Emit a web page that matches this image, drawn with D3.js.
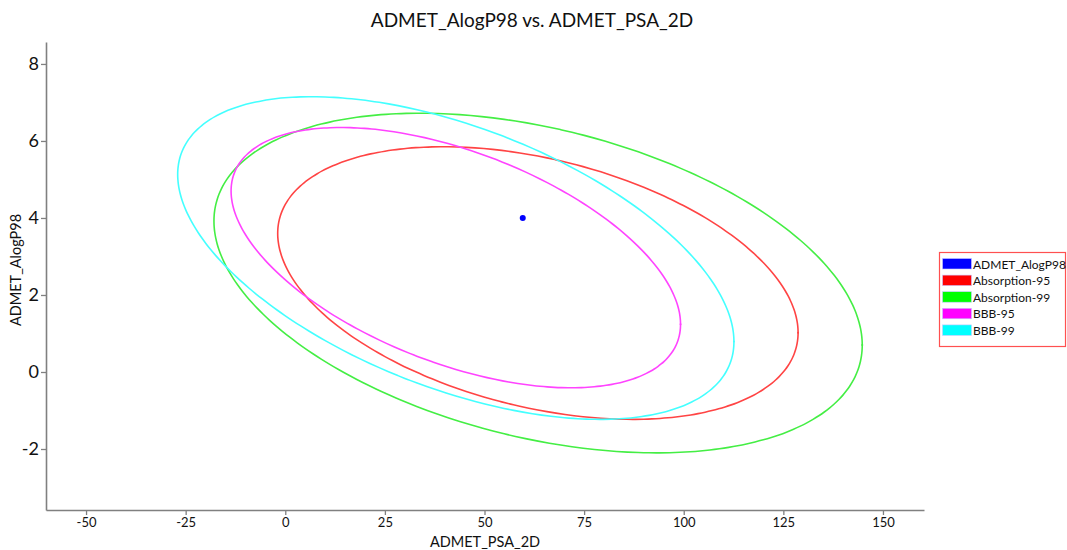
<!DOCTYPE html>
<html>
<head>
<meta charset="utf-8">
<script src="https://cdn.jsdelivr.net/npm/d3@7"></script>
<style>
  body { margin: 0; background: #fff; }
  svg { display: block; }
  text { font-family: Lato, "Open Sans", sans-serif; fill: #111; }
</style>
</head>
<body>
<svg id="chart" width="1067" height="550"></svg>
<script>
// ---- data ----
const xTicks = [-50, -25, 0, 25, 50, 75, 100, 125, 150];
const yTicks = [-2, 0, 2, 4, 6, 8];
const pointX = [59.6];
const pointY = [4.0];
const ellipseNames = ["Absorption-95", "Absorption-99", "BBB-95", "BBB-99"];
const ellipseCenterX = [63.4, 63.45, 42.8, 42.8];
const ellipseCenterY = [2.31, 2.31, 2.97, 2.96];
const ellipseHalfX = [65.3, 81.35, 56.4, 69.8];
const ellipseHalfY = [3.54, 4.41, 3.38, 4.19];
const ellipseCorr = [-0.364, -0.365, -0.512, -0.518];
const legendNames = ["ADMET_AlogP98", "Absorption-95", "Absorption-99", "BBB-95", "BBB-99"];
const legendColors = ["#0000ff", "#ff0000", "#00ff00", "#ff00ff", "#00ffff"];
const ellipseColors = ["#ff4444", "#44ee44", "#ff44ff", "#44ffff"];

// ---- layout ----
const svg = d3.select("#chart");
const mLeft = 46, mRight = 924, mTop = 42, mBottom = 510;
const x = d3.scaleLinear().domain([-60.05, 160.3]).range([mLeft, mRight]);
const y = d3.scaleLinear().domain([-3.584, 8.57]).range([mBottom, mTop]);
const fmt = d => String(d);

// title
svg.append("text").attr("x", 532).attr("y", 27).attr("text-anchor", "middle")
  .style("font-size", "19px").text("ADMET_AlogP98 vs. ADMET_PSA_2D");

// axes
const axisColor = "#808080";
const gx = svg.append("g").attr("transform", `translate(0,${mBottom})`)
  .call(d3.axisBottom(x).tickValues(xTicks).tickFormat(fmt).tickSize(5).tickSizeOuter(0).tickPadding(3));
gx.selectAll("text").style("font-size", "13px").style("font-family", "Lato, sans-serif");
const gy = svg.append("g").attr("transform", `translate(${mLeft},0)`)
  .call(d3.axisLeft(y).tickValues(yTicks).tickFormat(fmt).tickSize(5).tickSizeOuter(0).tickPadding(2));
gy.selectAll("text").style("font-size", "18px").style("font-family", "Lato, sans-serif");
[gx, gy].forEach(g => {
  g.select(".domain").attr("stroke", axisColor).attr("stroke-width", 1.6);
  g.selectAll(".tick line").attr("stroke", axisColor).attr("stroke-width", 1.3);
  g.selectAll(".tick text").attr("fill", "#111");
});

svg.append("text").attr("x", 485).attr("y", 547).attr("text-anchor", "middle")
  .style("font-size", "14.5px").text("ADMET_PSA_2D");
svg.append("text").attr("transform", "translate(21,270) rotate(-90)").attr("text-anchor", "middle")
  .style("font-size", "14.5px").text("ADMET_AlogP98");

// ellipses
const angles = d3.range(0, 360, 2).map(d => d * Math.PI / 180);
const line = d3.line().x(d => x(d[0])).y(d => y(d[1])).curve(d3.curveCardinalClosed);
ellipseNames.forEach((name, i) => {
  const phi = Math.acos(ellipseCorr[i]);
  const pts = angles.map(t => [
    ellipseCenterX[i] + ellipseHalfX[i] * Math.cos(t),
    ellipseCenterY[i] + ellipseHalfY[i] * Math.cos(t - phi)
  ]);
  svg.append("path").attr("d", line(pts)).attr("fill", "none")
    .attr("stroke", ellipseColors[i]).attr("stroke-width", 1.6);
  svg.append("circle").attr("cx", x(pts[0][0])).attr("cy", y(pts[0][1])).attr("r", 1)
    .attr("fill", ellipseColors[i]);
});

// point
svg.selectAll("circle.pt").data(pointX).enter().append("circle").attr("class", "pt")
  .attr("cx", d => x(d)).attr("cy", (d, i) => y(pointY[i])).attr("r", 3)
  .attr("fill", "#0000ff");

// legend
const lg = svg.append("g");
lg.append("rect").attr("x", 939.5).attr("y", 252.5).attr("width", 126).attr("height", 94)
  .attr("fill", "#fff").attr("stroke", "#ff5050").attr("stroke-width", 1.2);
legendNames.forEach((n, i) => {
  const yy = 258 + i * 16.6;
  lg.append("rect").attr("x", 942.5).attr("y", yy + 0.5).attr("width", 29).attr("height", 10.5)
    .attr("fill", legendColors[i]).attr("stroke", "#c8c8ff").attr("stroke-width", 0.6);
  lg.append("text").attr("x", 973).attr("y", yy + 10.5).style("font-size", "12px").text(n);
});
</script>
</body>
</html>
